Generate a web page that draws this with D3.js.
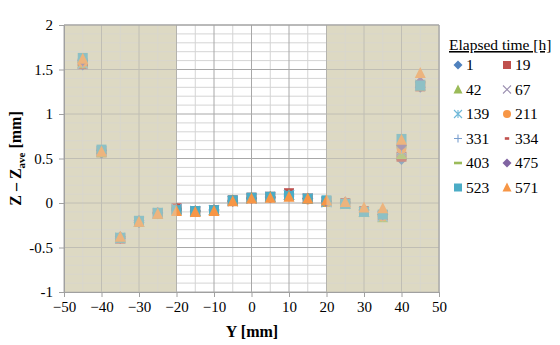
<!DOCTYPE html>
<html><head><meta charset="utf-8">
<script src="https://cdn.jsdelivr.net/npm/d3@7"></script>
</head><body style="margin:0">
<svg id="c" width="560" height="345"></svg>
<script>
const yPos = [-45,-40,-35,-30,-25,-20,-15,-10,-5,0,5,10,15,20,25,30,35,40,45];
const labels = ["1","19","42","67","139","211","331","334","403","475","523","571"];
const s1   = [1.55,0.56,-0.40,-0.22,-0.12,-0.06,-0.09,-0.08,0.03,0.06,0.07,0.10,0.05,0.02,0.00,-0.08,-0.13,0.49,1.30];
const s19  = [1.56,0.57,-0.40,-0.21,-0.12,-0.06,-0.09,-0.08,0.03,0.06,0.07,0.11,0.05,0.02,0.00,-0.09,-0.14,0.52,1.31];
const s42  = [1.57,0.57,-0.39,-0.21,-0.12,-0.07,-0.09,-0.08,0.03,0.06,0.07,0.09,0.05,0.01,-0.01,-0.10,-0.16,0.55,1.32];
const s67  = [1.56,0.58,-0.40,-0.21,-0.12,-0.07,-0.10,-0.08,0.02,0.05,0.07,0.09,0.05,0.01,-0.01,-0.10,-0.15,0.58,1.32];
const s139 = [1.57,0.58,-0.39,-0.21,-0.11,-0.07,-0.09,-0.08,0.02,0.05,0.06,0.09,0.05,0.01,-0.01,-0.10,-0.15,0.60,1.33];
const s211 = [1.58,0.58,-0.39,-0.21,-0.11,-0.08,-0.10,-0.09,0.02,0.05,0.06,0.08,0.04,0.01,0.00,-0.09,-0.15,0.61,1.34];
const s331 = [1.58,0.59,-0.39,-0.20,-0.11,-0.08,-0.09,-0.08,0.02,0.05,0.06,0.08,0.05,0.02,0.00,-0.09,-0.14,0.62,1.34];
const s334 = [1.59,0.59,-0.39,-0.20,-0.11,-0.08,-0.09,-0.08,0.02,0.05,0.06,0.08,0.05,0.02,0.00,-0.09,-0.14,0.63,1.35];
const s403 = [1.59,0.59,-0.38,-0.20,-0.11,-0.08,-0.09,-0.08,0.02,0.05,0.06,0.08,0.05,0.02,0.01,-0.09,-0.14,0.64,1.36];
const s475 = [1.60,0.59,-0.38,-0.20,-0.11,-0.08,-0.09,-0.08,0.02,0.05,0.06,0.08,0.05,0.02,0.01,-0.08,-0.13,0.65,1.36];
const s523 = [1.63,0.60,-0.39,-0.20,-0.11,-0.08,-0.09,-0.08,0.03,0.06,0.07,0.08,0.05,0.03,-0.01,-0.10,-0.13,0.72,1.32];
const s571 = [1.62,0.58,-0.38,-0.21,-0.12,-0.09,-0.10,-0.09,0.02,0.05,0.06,0.07,0.05,0.03,0.01,-0.05,-0.06,0.71,1.46];
const seriesVals = [s1,s19,s42,s67,s139,s211,s331,s334,s403,s475,s523,s571];
const xTicks = [-50,-40,-30,-20,-10,0,10,20,30,40,50];
const yTicks = [-1,-0.5,0,0.5,1,1.5,2];
const shaded = [[-50,-20],[20,50]];

const colors = ["#4F81BD","#C0504D","#9BBB59","#9b8fb0","#6fb8d8","#F79646","#7a9fcf","#C0504D","#9BBB59","#8064A2","#4BACC6","#F79646"];
const shapes = ["diamond","square","triangle","x","star","circle","plus","dash","longdash","diamond","square","triangle"];

const svg = d3.select("#c");
const L=64,R=439,T=25,B=292;
const x = d3.scaleLinear().domain([-50,50]).range([L,R]);
const y = d3.scaleLinear().domain([-1,2]).range([B,T]);
const font = "Liberation Serif";

function marker(g, shape, color, s){
  const h=s/2;
  if(shape==="diamond") g.append("path").attr("d",`M0,${-h-0.5}L${h+0.5},0L0,${h+0.5}L${-h-0.5},0Z`).attr("fill",color);
  else if(shape==="square") g.append("rect").attr("x",-h).attr("y",-h).attr("width",s).attr("height",s).attr("fill",color);
  else if(shape==="triangle") g.append("path").attr("d",`M0,${-h-1}L${h+0.5},${h}L${-h-0.5},${h}Z`).attr("fill",color);
  else if(shape==="circle") g.append("circle").attr("r",h).attr("fill",color);
  else if(shape==="x") g.append("path").attr("d",`M${-h},${-h}L${h},${h}M${-h},${h}L${h},${-h}`).attr("stroke",color).attr("stroke-width",1.1);
  else if(shape==="star") g.append("path").attr("d",`M${-h},${-h}L${h},${h}M${-h},${h}L${h},${-h}M0,${-h}L0,${h}`).attr("stroke",color).attr("stroke-width",1.1);
  else if(shape==="plus") g.append("path").attr("d",`M${-h},0L${h},0M0,${-h}L0,${h}`).attr("stroke",color).attr("stroke-width",1.1);
  else if(shape==="dash") g.append("rect").attr("x",-h*0.55).attr("y",-1.3).attr("width",s*0.55).attr("height",2.6).attr("fill",color);
  else if(shape==="longdash") g.append("rect").attr("x",-h).attr("y",-1.3).attr("width",s).attr("height",2.6).attr("fill",color);
}

shaded.forEach(([a,b])=>svg.append("rect").attr("x",x(a)).attr("y",T).attr("width",x(b)-x(a)).attr("height",B-T).attr("fill","#ddd9c3"));

const xMinor = d3.range(-45,50,10);
const yMinor = d3.range(-1,2.001,0.1).map(v=>+v.toFixed(2)).filter(v=>Math.abs(v*2-Math.round(v*2))>1e-6);
svg.append("g").selectAll("line").data(xMinor).join("line")
  .attr("x1",d=>x(d)).attr("x2",d=>x(d)).attr("y1",T).attr("y2",B).attr("stroke","#d4d4d4").attr("stroke-width",1);
svg.append("g").selectAll("line").data(yMinor).join("line")
  .attr("x1",L).attr("x2",R).attr("y1",d=>y(d)).attr("y2",d=>y(d)).attr("stroke","#d4d4d4").attr("stroke-width",1);
svg.append("g").selectAll("line").data(xTicks).join("line")
  .attr("x1",d=>x(d)).attr("x2",d=>x(d)).attr("y1",T).attr("y2",B).attr("stroke","#a8a8a8").attr("stroke-width",1);
svg.append("g").selectAll("line").data(yTicks).join("line")
  .attr("x1",L).attr("x2",R).attr("y1",d=>y(d)).attr("y2",d=>y(d)).attr("stroke","#a8a8a8").attr("stroke-width",1);

seriesVals.forEach((vals,i)=>{
  const g = svg.append("g");
  vals.forEach((v,j)=>{
    const m = g.append("g").attr("transform",`translate(${x(yPos[j])},${y(v)})`);
    marker(m, shapes[i], colors[i], 10);
  });
});

shaded.forEach(([a,b])=>svg.append("rect").attr("x",x(a)).attr("y",T).attr("width",x(b)-x(a)).attr("height",B-T).attr("fill","#ddd9c3").attr("opacity",0.45));

svg.append("line").attr("x1",L).attr("x2",R).attr("y1",T).attr("y2",T).attr("stroke","#a0a0a0");
svg.append("line").attr("x1",R).attr("x2",R).attr("y1",T).attr("y2",B).attr("stroke","#a0a0a0");

const xa = svg.append("g").attr("transform",`translate(0,${B})`).call(d3.axisBottom(x).tickValues(xTicks).tickSize(5).tickPadding(4).tickFormat(d3.format("d")));
const ya = svg.append("g").attr("transform",`translate(${L},0)`).call(d3.axisLeft(y).tickValues(yTicks).tickSize(5).tickPadding(6).tickFormat(d=>String(d)));
[xa,ya].forEach(a=>{
  a.attr("font-family",font).attr("font-size",15);
  a.select(".domain").attr("stroke","#a0a0a0");
  a.selectAll(".tick line").attr("stroke","#a0a0a0");
  a.selectAll("text").attr("fill","#000").attr("font-family",font);
});

svg.append("text").attr("x",252).attr("y",337).attr("text-anchor","middle").attr("font-family",font).attr("font-size",16).attr("font-weight","bold").text("Y [mm]");
const yt = svg.append("text").attr("transform",`translate(21,${(T+B)/2}) rotate(-90)`).attr("text-anchor","middle").attr("font-family",font).attr("font-size",16).attr("font-weight","bold");
yt.append("tspan").text("Z \u2013 Z");
yt.append("tspan").attr("font-size",11).attr("dy",4).text("ave");
yt.append("tspan").attr("dy",-4).text(" [mm]");

svg.append("text").attr("x",449).attr("y",50).attr("font-family",font).attr("font-size",15.5).attr("text-decoration","underline").text("Elapsed time [h]");
labels.forEach((lab,i)=>{
  const col=i%2,row=Math.floor(i/2);
  const bx = col===0?458:507, by = 70+row*24.5;
  const m = svg.append("g").attr("transform",`translate(${bx},${by-5})`);
  marker(m, shapes[i], colors[i], 8);
  svg.append("text").attr("x",bx+8).attr("y",by).attr("font-family",font).attr("font-size",15.5).text(lab);
});
</script></body></html>
